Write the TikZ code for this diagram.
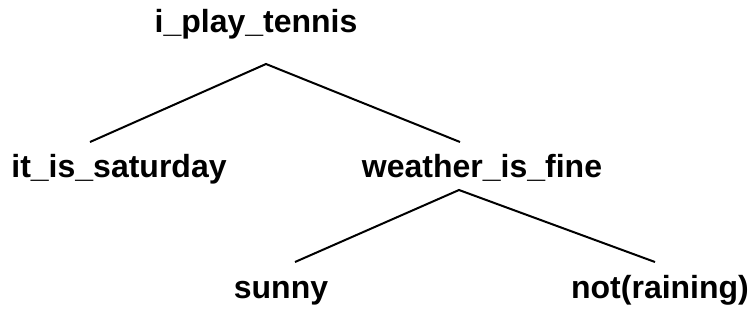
\documentclass[tikz,border=0pt]{standalone}
\usepackage{fontspec}
\setmainfont{Liberation Sans}
\begin{document}
\begin{tikzpicture}[x=1pt,y=-1pt,
  lbl/.style={font=\fontsize{32}{36}\selectfont\bfseries, anchor=base, inner sep=0pt},
  edge/.style={line width=2pt}]
\useasboundingbox (0,0) rectangle (751,330);
% labels
\node[lbl] (root) at (256,32) {i\_play\_tennis};
\node[lbl] (sat)  at (119,177) {it\_is\_saturday};
\node[lbl] (fine) at (482,177) {weather\_is\_fine};
\node[lbl] (sun)  at (281,298) {sunny};
\node[lbl] (rain) at (660,298) {not(raining)};
% branch points
\coordinate (rootTip) at (266,64);
\coordinate (satEnd)  at (90,142);
\coordinate (fineEnd) at (460,142);
\coordinate (fineTip) at (459,190);
\coordinate (sunEnd)  at (295,262);
\coordinate (rainEnd) at (655,262);
% branches
\draw[edge] (satEnd) -- (rootTip) -- (fineEnd);
\draw[edge] (sunEnd) -- (fineTip) -- (rainEnd);
\end{tikzpicture}
\end{document}
